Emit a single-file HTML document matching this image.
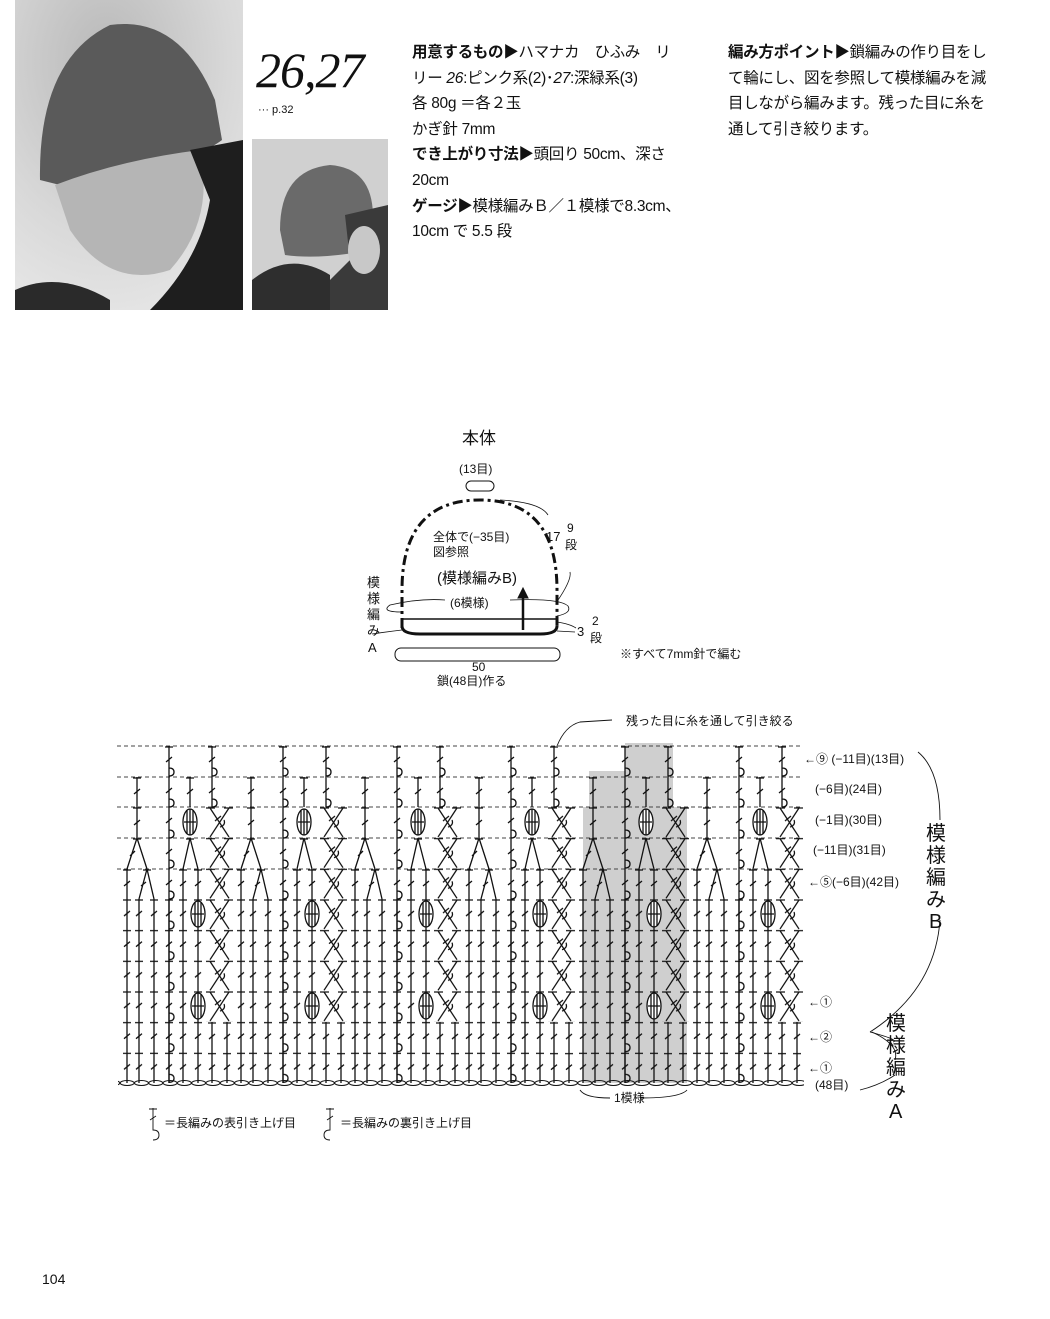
<!DOCTYPE html>
<html><head><meta charset="utf-8">
<style>
body{margin:0;background:#fff;}
.pg{position:relative;width:1050px;height:1319px;overflow:hidden;font-family:"Liberation Sans","Noto Sans CJK JP",sans-serif;color:#111;}
.t{position:absolute;white-space:nowrap;}
.txt{position:absolute;font-size:15.5px;line-height:25.6px;white-space:nowrap;letter-spacing:-0.3px}
b{font-weight:bold}
</style></head><body><div class="pg">
<svg width="1050" height="320" style="position:absolute;left:0;top:0">
<defs>
<radialGradient id="bg1" cx="0.4" cy="0.2" r="0.9"><stop offset="0" stop-color="#b8b8b8"/><stop offset="0.6" stop-color="#d8d8d8"/><stop offset="1" stop-color="#e8e8e8"/></radialGradient>
</defs>
<rect x="15" y="0" width="228" height="310" fill="url(#bg1)"/>
<path d="M40 180 Q38 60 110 25 Q180 15 215 100 L222 140 Q190 165 60 185 Z" fill="#5a5a5a"/>
<path d="M55 185 Q120 160 200 150 Q215 220 170 270 Q110 290 70 230 Z" fill="#b5b5b5"/>
<path d="M190 150 L243 140 L243 310 L150 310 Q200 260 210 200 Z" fill="#1e1e1e"/>
<path d="M15 290 Q60 270 110 300 L110 310 L15 310Z" fill="#2a2a2a"/>
<rect x="252" y="139" width="136" height="171" fill="#d0d0d0"/>
<path d="M280 230 Q280 170 330 165 Q372 168 373 215 L370 250 Q320 260 285 255 Z" fill="#6a6a6a"/>
<path d="M345 215 L388 205 L388 310 L300 310 Q330 280 350 260 Z" fill="#3a3a3a"/>
<path d="M252 280 Q290 250 330 275 L330 310 L252 310Z" fill="#2e2e2e"/>
<ellipse cx="364" cy="250" rx="16" ry="24" fill="#c8c8c8"/>
</svg>
<div class="t" style="left:256px;top:42px;font-family:'Liberation Serif',serif;font-style:italic;font-size:50px;line-height:56px;letter-spacing:-1px">26,27</div>
<div class="t" style="left:258px;top:104px;font-size:11px">··· p.32</div>

<div class="txt" style="left:412px;top:40px"><b>用意するもの▶</b>ハマナカ　ひふみ　リ<br>リー <i>26</i>:ピンク系(2)･<i>27</i>:深緑系(3)<br>各 80g ＝各２玉<br>かぎ針 7mm<br><b>でき上がり寸法▶</b>頭回り 50cm、深さ<br>20cm<br><b>ゲージ▶</b>模様編みＢ／１模様で8.3cm、<br>10cm で 5.5 段</div>
<div class="txt" style="left:728px;top:40px"><b>編み方ポイント▶</b>鎖編みの作り目をし<br>て輪にし、図を参照して模様編みを減<br>目しながら編みます。残った目に糸を<br>通して引き絞ります。</div>

<!-- hat schematic -->
<svg width="1050" height="1319" style="position:absolute;left:0;top:0" font-family="Liberation Sans, Noto Sans CJK JP, sans-serif" fill="none" stroke="#111">
<rect x="466" y="481" width="28" height="10" rx="5" stroke-width="1"/>
<path d="M402 628 L402 590 Q402 500 480 500 Q557 500 557 590 L557 628" stroke-width="3" stroke-dasharray="10 4 3 4"/>
<line x1="402" y1="619" x2="557" y2="619" stroke-width="1.5"/>
<path d="M402 626 Q402 634 420 634 L540 634 Q557 634 557 626" stroke-width="3"/>
<path d="M402 612 Q380 612 390 605 Q420 598 445 600 M510 600 Q560 598 568 606 Q572 613 557 616" stroke-width="0.8"/>
<line x1="523" y1="630" x2="523" y2="596" stroke-width="2.5"/>
<path d="M518 598 L523 588 L528 598 Z" fill="#111"/>
<rect x="395" y="648" width="165" height="13" rx="6" stroke-width="1"/>
<path d="M500 500 Q540 502 548 515" stroke-width="0.8"/>
<path d="M556 603 Q572 580 570 572" stroke-width="0.8"/>
<path d="M557 622 Q570 624 576 628 M557 631 L575 632" stroke-width="0.8"/>
<path d="M402 630 Q385 632 372 634" stroke-width="0.8"/>
<g stroke="none" fill="#111" font-size="12">
<text x="462" y="444" font-size="17">本体</text>
<text x="459" y="473">(13目)</text>
<text x="433" y="541">全体で(−35目)</text>
<text x="433" y="556">図参照</text>
<text x="437" y="583" font-size="15">(模様編みB)</text>
<text x="450" y="607">(6模様)</text>
<text x="546" y="541" font-size="13">17</text>
<text x="567" y="532">9</text><text x="565" y="549">段</text>
<text x="577" y="636" font-size="13">3</text>
<text x="592" y="625">2</text><text x="590" y="642">段</text>
<text x="367" y="587" font-size="13">模</text><text x="367" y="603" font-size="13">様</text><text x="367" y="619" font-size="13">編</text><text x="367" y="635" font-size="13">み</text><text x="368" y="652" font-size="13">A</text>
<text x="620" y="658">※すべて7mm針で編む</text>
<text x="472" y="671">50</text>
<text x="437" y="685">鎖(48目)作る</text>
</g>
</svg>

<!-- chart -->
<svg width="1050" height="1319" style="position:absolute;left:0;top:0" font-family="Liberation Sans, Noto Sans CJK JP, sans-serif">
<defs>
<pattern id="P1" patternUnits="userSpaceOnUse" x="120" y="899" width="114" height="30.67">
<g stroke="#111" stroke-width="1.3" fill="none">
<path d="M7 0V30.7M3 1H11M4 17L10 12"/>
<path d="M19 0V30.7M15 1H23M16 17L22 12"/>
<path d="M34 0V30.7M30 1H38M31 17L37 12"/>
<path d="M49 0V30.7M45 1H53M46 17L52 12M49 22q5 0 5 4t-5 4"/>
<path d="M63 0V30.7M59 1H67M60 17L66 12"/>
<path d="M78 0V30.7M74 1H82M75 17L81 12"/>
</g></pattern>
<pattern id="P2" patternUnits="userSpaceOnUse" x="120" y="1022" width="114" height="30.67">
<g stroke="#111" stroke-width="1.3" fill="none">
<path d="M92 0V30.7M88 1H96M89 17L95 12"/>
<path d="M107 0V30.7M103 1H111M104 17L110 12"/>
</g></pattern>
<pattern id="P3" patternUnits="userSpaceOnUse" x="120" y="807" width="114" height="30.67">
<g stroke="#111" stroke-width="1.3" fill="none">
<path d="M90 1L109 30M109 1L90 30M86 1H95M104 1H113M95 14L101 9M100 20q6 -2 4 -7"/>
</g></pattern>
<pattern id="CH" patternUnits="userSpaceOnUse" x="120" y="1079" width="14.3" height="8">
<ellipse cx="7.15" cy="4" rx="7" ry="2.5" fill="none" stroke="#111" stroke-width="1"/>
</pattern>
<g id="U" stroke="#111" stroke-width="1.3" fill="none">
<path d="M127 869V899M123 870H131M124 886L130 881"/>
<path d="M139 899L147 869L154 899M143 870H151M141 886L146 882"/>
<path d="M127 869L137 838L147 869M133 839H141M130 856L135 851"/>
<path d="M137 838V807M133 808H141M134 825L140 820"/>
<path d="M137 807V777M133 778H141M134 794L140 789"/>
<path d="M169 1083V746M165 747H173M166 762L172 757M166 793L172 788M166 823L172 818M166 854L172 849M166 885L172 880M169 768q5 0 5 4t-5 4M169 799q5 0 5 4t-5 4M169 830q5 0 5 4t-5 4M169 860q5 0 5 4t-5 4M169 891q5 0 5 4t-5 4"/>
<path d="M183 899V869M179 870H187M180 886L186 881"/>
<path d="M198 899V869M194 870H202M195 886L201 881"/>
<path d="M183 869L190 838L198 869M186 839H194"/>
<path d="M190 807V777M186 778H194M187 794L193 789"/>
<path d="M212 807V746M208 747H216M209 762L215 757M209 793L215 788M212 768q5 0 5 4t-5 4M212 799q5 0 5 4t-5 4"/>
<ellipse cx="190" cy="822" rx="7" ry="13" fill="#fff"/>
<path d="M187 810V834M190 809V835M193 810V834M184 822H196"/>
<ellipse cx="198" cy="914" rx="7" ry="13" fill="#fff"/>
<path d="M195 902V926M198 901V927M201 902V926M192 914H204"/>
<ellipse cx="198" cy="1006" rx="7" ry="13" fill="#fff"/>
<path d="M195 994V1018M198 993V1019M201 994V1018M192 1006H204"/>
</g>
</defs>
<path d="M583 1083V807H589V771H625V743H673V807H687V1083Z" fill="#cfcfcf"/>
<g stroke="#444" stroke-width="0.9" stroke-dasharray="4 3">
<line x1="117" y1="746" x2="800" y2="746"/>
<line x1="117" y1="777" x2="800" y2="777"/>
<line x1="117" y1="807" x2="800" y2="807"/>
<line x1="117" y1="838" x2="800" y2="838"/>
<line x1="117" y1="869" x2="800" y2="869"/>
</g>
<rect x="120" y="899" width="684" height="184" fill="url(#P1)"/>
<rect x="120" y="1022" width="684" height="61" fill="url(#P2)"/>
<rect x="120" y="807" width="684" height="215" fill="url(#P3)"/>
<rect x="118" y="1079" width="686" height="8" fill="url(#CH)"/>
<use href="#U"/>
<use href="#U" x="114"/>
<use href="#U" x="228"/>
<use href="#U" x="342"/>
<use href="#U" x="456"/>
<use href="#U" x="570"/>
<g fill="none" stroke="#111" stroke-width="0.9">
<path d="M557 746 Q565 726 580 722 L612 720"/>
<path d="M580 1090 Q585 1098 610 1098 M640 1098 Q680 1098 687 1090"/>
<path d="M918 752 Q940 770 940 820"/>
<path d="M940 920 Q935 990 870 1032 M870 1032 Q900 1040 893 1042"/>
<path d="M872 1032 Q900 1045 895 1060 M895 1075 Q880 1085 860 1090"/>
<path d="M153 1108V1130q6 0 6 5t-6 5M149 1109H157M150 1120L156 1116"/>
<path d="M330 1108V1130q-6 0 -6 5t6 5M326 1109H334M327 1120L333 1116"/>
</g>
<g fill="#111" font-size="12">
<text x="626" y="725">残った目に糸を通して引き絞る</text>
<text x="804" y="763">←⑨ (−11目)(13目)</text>
<text x="815" y="793">(−6目)(24目)</text>
<text x="815" y="824">(−1目)(30目)</text>
<text x="813" y="854">(−11目)(31目)</text>
<text x="808" y="886">←⑤(−6目)(42目)</text>
<text x="808" y="1006">←①</text>
<text x="808" y="1041">←②</text>
<text x="808" y="1072">←①</text>
<text x="815" y="1089">(48目)</text>
<text x="614" y="1102">1模様</text>
<g font-size="20"><text x="926" y="840">模</text><text x="926" y="862">様</text><text x="926" y="884">編</text><text x="926" y="906">み</text><text x="929" y="928">B</text>
<text x="886" y="1030">模</text><text x="886" y="1052">様</text><text x="886" y="1074">編</text><text x="886" y="1096">み</text><text x="889" y="1118">A</text></g>
<text x="164" y="1127">＝長編みの表引き上げ目</text>
<text x="340" y="1127">＝長編みの裏引き上げ目</text>
<text x="42" y="1284" font-size="14">104</text>
</g>
</svg>
</div></body></html>
